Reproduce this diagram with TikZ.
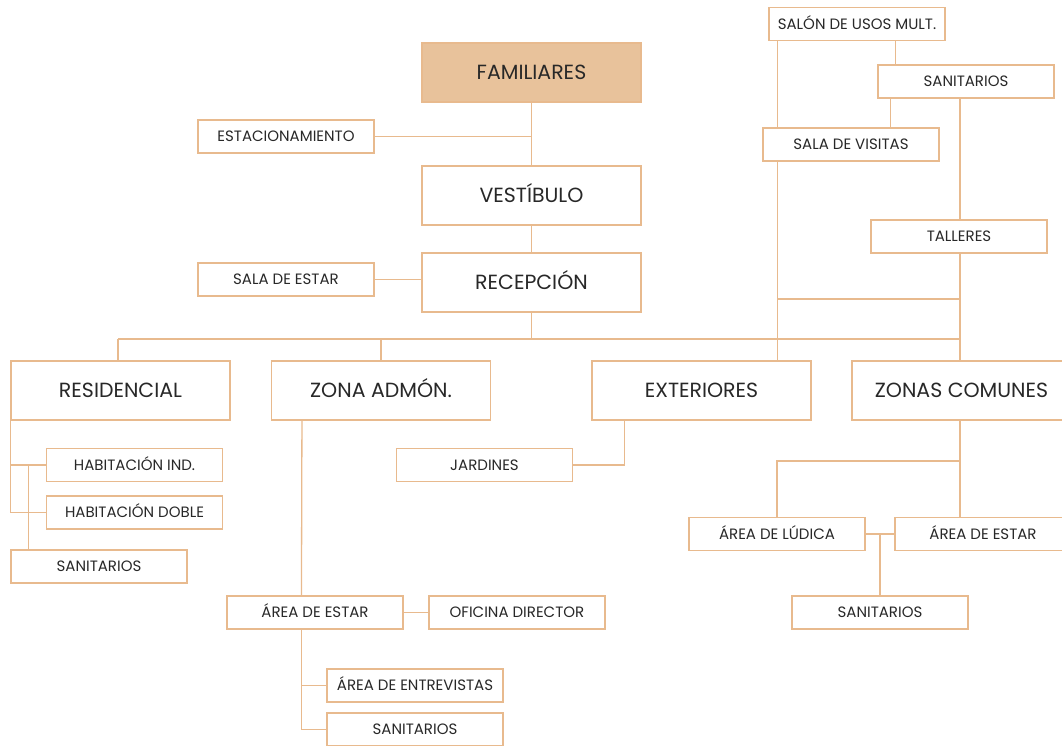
\documentclass[tikz,border=0pt]{standalone}
\usepackage{fontspec}
\setmainfont{Poppins}
\definecolor{tan}{RGB}{232,186,142}
\definecolor{tanfill}{RGB}{232,194,155}
\definecolor{ink}{RGB}{40,40,40}
\begin{document}
\begin{tikzpicture}[x=1pt, y=-1pt,
    every node/.style={text=ink},
    area/.style={draw=tan, line width=1.1pt, fill=white, minimum width=219pt, minimum height=59pt, font=\fontsize{20.5}{24}\selectfont, inner sep=0pt, text height=14.5pt, text depth=0pt},
    sub/.style={draw=tan, line width=1.1pt, fill=white, minimum width=176pt, minimum height=33pt, font=\fontsize{15}{18}\selectfont, inner sep=0pt, text height=10.5pt, text depth=0pt},
    link/.style={draw=tan, line width=1.3pt}]
    \useasboundingbox (0,0) rectangle (1062,746);

    % main axis
    \node[area, fill=tanfill] (fam) at (531.5,72.5) {FAMILIARES};
    \node[area] (vest) at (531.5,195.5) {VESTÍBULO};
    \node[area] (rec) at (531.5,282.5) {RECEPCIÓN};
    \node[sub] (estac) at (286,136.5) {ESTACIONAMIENTO};
    \node[sub] (salaest) at (286,279.5) {SALA DE ESTAR};

    % zones
    \node[area] (res) at (120.5,390.5) {RESIDENCIAL};
    \node[area] (adm) at (381,390.5) {ZONA ADMÓN.};
    \node[area] (ext) at (701.5,390.5) {EXTERIORES};
    \node[area] (com) at (961.5,390.5) {ZONAS COMUNES};

    % residencial
    \node[sub] (habind) at (134.5,465) {HABITACIÓN IND.};
    \node[sub] (habdob) at (134.5,512.5) {HABITACIÓN DOBLE};
    \node[sub] (sanres) at (99,566.5) {SANITARIOS};

    % zona admon
    \node[sub] (aeadm) at (315,612.5) {ÁREA DE ESTAR};
    \node[sub] (ofic) at (517,612.5) {OFICINA DIRECTOR};
    \node[sub] (entrev) at (415,685.5) {ÁREA DE ENTREVISTAS};
    \node[sub] (sanadm) at (415,729.5) {SANITARIOS};

    % exteriores
    \node[sub] (jard) at (484.5,465) {JARDINES};

    % zonas comunes
    \node[sub] (ludica) at (777,534) {ÁREA DE LÚDICA};
    \node[sub] (aecom) at (983,534) {ÁREA DE ESTAR};
    \node[sub] (sancom) at (880,612.5) {SANITARIOS};

    % upper right group
    \node[sub] (salon) at (857,24) {SALÓN DE USOS MULT.};
    \node[sub] (santop) at (966,81.5) {SANITARIOS};
    \node[sub] (visitas) at (851,144.5) {SALA DE VISITAS};
    \node[sub] (taller) at (959,236.5) {TALLERES};

    % junction points
    \coordinate (bus) at (531.5,339);
    \coordinate (busL) at (118,339);
    \coordinate (busR) at (960,339);
    \coordinate (tee) at (960,299);
    \coordinate (comsplit) at (960,461);

    % main axis links
    \draw[link] (fam) -- (vest);
    \draw[link] (estac) -- (estac -| fam);
    \draw[link] (vest) -- (rec);
    \draw[link] (salaest) -- (salaest -| rec.west);
    \draw[link] (rec) -- (bus);
    \draw[link] (busL) -- (busR);
    \draw[link] (busL) -- (busL |- res.north);
    \draw[link] (bus -| adm) -- (adm.north);
    \draw[link] (busR) -- (com.north -| busR);

    % upper right links
    \draw[link] ([xshift=9pt]salon.south west) -- ([xshift=15pt]visitas.north west);
    \draw[link] ([xshift=15pt]visitas.south west) -- ([xshift=15pt]visitas.south west |- ext.north);
    \draw[link] ([xshift=-50pt]salon.south east) -- ([xshift=-50pt]salon.south east |- santop.north);
    \draw[link] ([xshift=13pt]santop.south west) -- ([xshift=13pt]santop.south west |- visitas.north);
    \draw[link] (santop.south -| busR) -- (taller.north -| busR);
    \draw[link] (taller.south -| busR) -- (busR);
    \draw[link] ([xshift=15pt]visitas.south west |- tee) -- (tee);

    % residencial links
    \draw[link] (res.south west) -- (res.south west |- habdob);
    \draw[link] (res.south west |- habind) -- (habind.west);
    \draw[link] (res.south west |- habdob) -- (habdob.west);
    \draw[link] ([xshift=18pt]res.south west |- habind) -- ([xshift=18pt]sanres.north west);

    % zona admon links
    \draw[link] ([xshift=31pt]adm.south west) -- ([xshift=75pt]aeadm.north west);
    \draw[link] (aeadm) -- (ofic);
    \draw[link] ([xshift=75pt]aeadm.south west) -- ([xshift=75pt]aeadm.south west |- sanadm);
    \draw[link] ([xshift=75pt]aeadm.south west |- entrev) -- (entrev.west);
    \draw[link] ([xshift=75pt]aeadm.south west |- sanadm) -- (sanadm.west);

    % exteriores links
    \draw[link] ([xshift=33pt]ext.south west) -- ([xshift=33pt]ext.south west |- jard) -- (jard.east);

    % zonas comunes links
    \draw[link] (com.south -| busR) -- (aecom.north -| busR);
    \draw[link] (comsplit) -- (comsplit -| ludica) -- (ludica.north);
    \draw[link] (ludica) -- (aecom);
    \draw[link] (ludica.east -| sancom) -- (sancom.north);
\end{tikzpicture}
\end{document}
